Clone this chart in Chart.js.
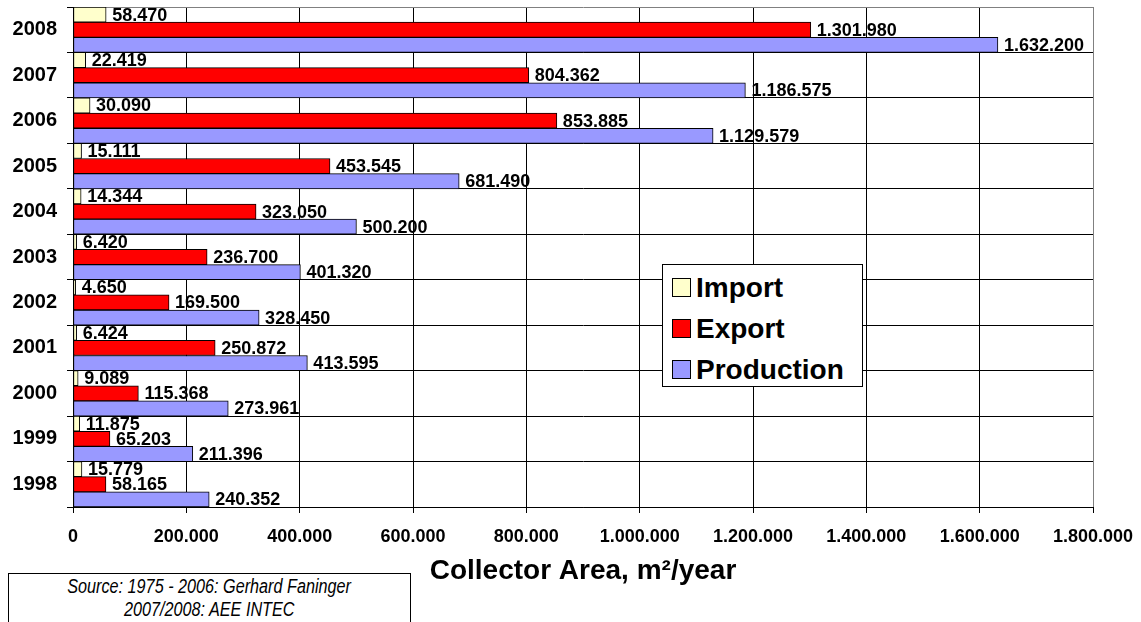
<!DOCTYPE html>
<html>
<head>
<meta charset="utf-8">
<script src="https://cdn.jsdelivr.net/npm/chart.js@4.4.1/dist/chart.umd.min.js"></script>
<style>
  body { margin: 0; background: #fff; }
  #wrap { position: relative; width: 1141px; height: 622px; overflow: hidden; }
  #legend {
    position: absolute; left: 662px; top: 264px; width: 199px; height: 121px;
    border: 1px solid #000; background: #fff;
    font-family: "Liberation Sans", Arial, sans-serif; font-weight: bold; font-size: 28px;
  }
  #legend .item { position: absolute; left: 9px; height: 30px; line-height: 30px; white-space: nowrap; }
  #legend .sw { display: inline-block; width: 17px; height: 17px; border: 1px solid #000; vertical-align: middle; margin-right: 5px; position: relative; top: -2px; }
  #source {
    position: absolute; left: 8px; top: 573px; width: 401px; height: 80px;
    border: 1px solid #000; background: #fff; text-align: center;
    font-family: "Liberation Sans", Arial, sans-serif;
    font-style: italic; font-size: 20px; line-height: 23px; padding-top: 1px;
  }
  #source span { display: inline-block; transform: scaleX(0.81); white-space: nowrap; }
</style>
</head>
<body>
<div id="wrap">
  <canvas id="chart" width="1141" height="622"></canvas>
  <div id="legend"></div>
  <div id="source"><span>Source: 1975 - 2006: Gerhard Faninger</span><br><span>2007/2008: AEE INTEC</span></div>
</div>
<script>
// years listed top to bottom
var years = ['2008', '2007', '2006', '2005', '2004', '2003', '2002', '2001', '2000', '1999', '1998'];
var importData = [58470, 22419, 30090, 15111, 14344, 6420, 4650, 6424, 9089, 11875, 15779];
var exportData = [1301980, 804362, 853885, 453545, 323050, 236700, 169500, 250872, 115368, 65203, 58165];
var productionData = [1632200, 1186575, 1129579, 681490, 500200, 401320, 328450, 413595, 273961, 211396, 240352];
var seriesNames = ['Import', 'Export', 'Production'];
var seriesColors = ['#FFFFCC', '#FF0000', '#9999FF'];

var FONT = '"Liberation Sans", Arial, sans-serif';

// 1234567 -> "1.234.567"
function fmt(v) {
  return String(Math.round(v)).replace(/\B(?=(\d{3})+(?!\d))/g, '.');
}

var dataLabels = {
  id: 'dataLabels',
  afterDatasetsDraw: function(chart) {
    var ctx = chart.ctx;
    ctx.save();
    ctx.font = 'bold 18px ' + FONT;
    ctx.fillStyle = '#000';
    ctx.textAlign = 'left';
    ctx.textBaseline = 'middle';
    chart.data.datasets.forEach(function(ds, i) {
      var meta = chart.getDatasetMeta(i);
      meta.data.forEach(function(bar, j) {
        ctx.fillText(fmt(ds.data[j]), bar.x + 6, bar.y + 1);
      });
    });
    ctx.restore();
  }
};

var allData = [importData, exportData, productionData];
var datasets = seriesNames.map(function(name, i) {
  return {
    label: name,
    data: allData[i],
    backgroundColor: seriesColors[i],
    borderColor: '#000',
    borderWidth: 1,
    borderSkipped: false,
    barPercentage: 1,
    categoryPercentage: 1
  };
});

var ctx = document.getElementById('chart').getContext('2d');
var myChart = new Chart(ctx, {
  type: 'bar',
  data: { labels: years, datasets: datasets },
  plugins: [dataLabels],
  options: {
    indexAxis: 'y',
    responsive: false,
    animation: false,
    devicePixelRatio: 1,
    layout: { padding: { top: 7, right: 48, left: 0, bottom: 0 } },
    plugins: { legend: { display: false }, tooltip: { enabled: false } },
    scales: {
      x: {
        min: 0,
        max: 1800000,
        ticks: {
          stepSize: 200000,
          padding: 13,
          color: '#000',
          font: { family: FONT, weight: 'bold', size: 18 },
          callback: function(v) { return fmt(v); }
        },
        grid: {
          color: function(c) { return c.index === 9 ? '#808080' : '#000'; },
          lineWidth: 1,
          tickLength: 6,
          tickColor: '#000'
        },
        border: { color: '#000', width: 1 },
        title: {
          display: true,
          text: 'Collector Area, m²/year',
          color: '#000',
          font: { family: FONT, weight: 'bold', size: 28 },
          padding: { top: 0, bottom: 34 }
        },
        afterFit: function(scale) {
          scale.height = 115;
          scale.paddingRight = 0;
        }
      },
      y: {
        ticks: {
          padding: 10,
          color: '#000',
          font: { family: FONT, weight: 'bold', size: 20 }
        },
        grid: {
          color: function(c) { return c.index === 0 ? '#808080' : '#000'; },
          lineWidth: 1,
          tickLength: 6,
          tickColor: '#000'
        },
        border: { color: '#000', width: 1 },
        afterFit: function(scale) {
          scale.width = 73;
          scale.paddingTop = 0;
          scale.paddingBottom = 0;
        }
      }
    }
  }
});

// legend box inside the plot
var legend = document.getElementById('legend');
seriesNames.forEach(function(name, i) {
  var item = document.createElement('div');
  item.className = 'item';
  item.style.top = (8 + i * 41) + 'px';
  item.innerHTML = '<span class="sw" style="background:' + seriesColors[i] + '"></span>' + name;
  legend.appendChild(item);
});
</script>
</body>
</html>
